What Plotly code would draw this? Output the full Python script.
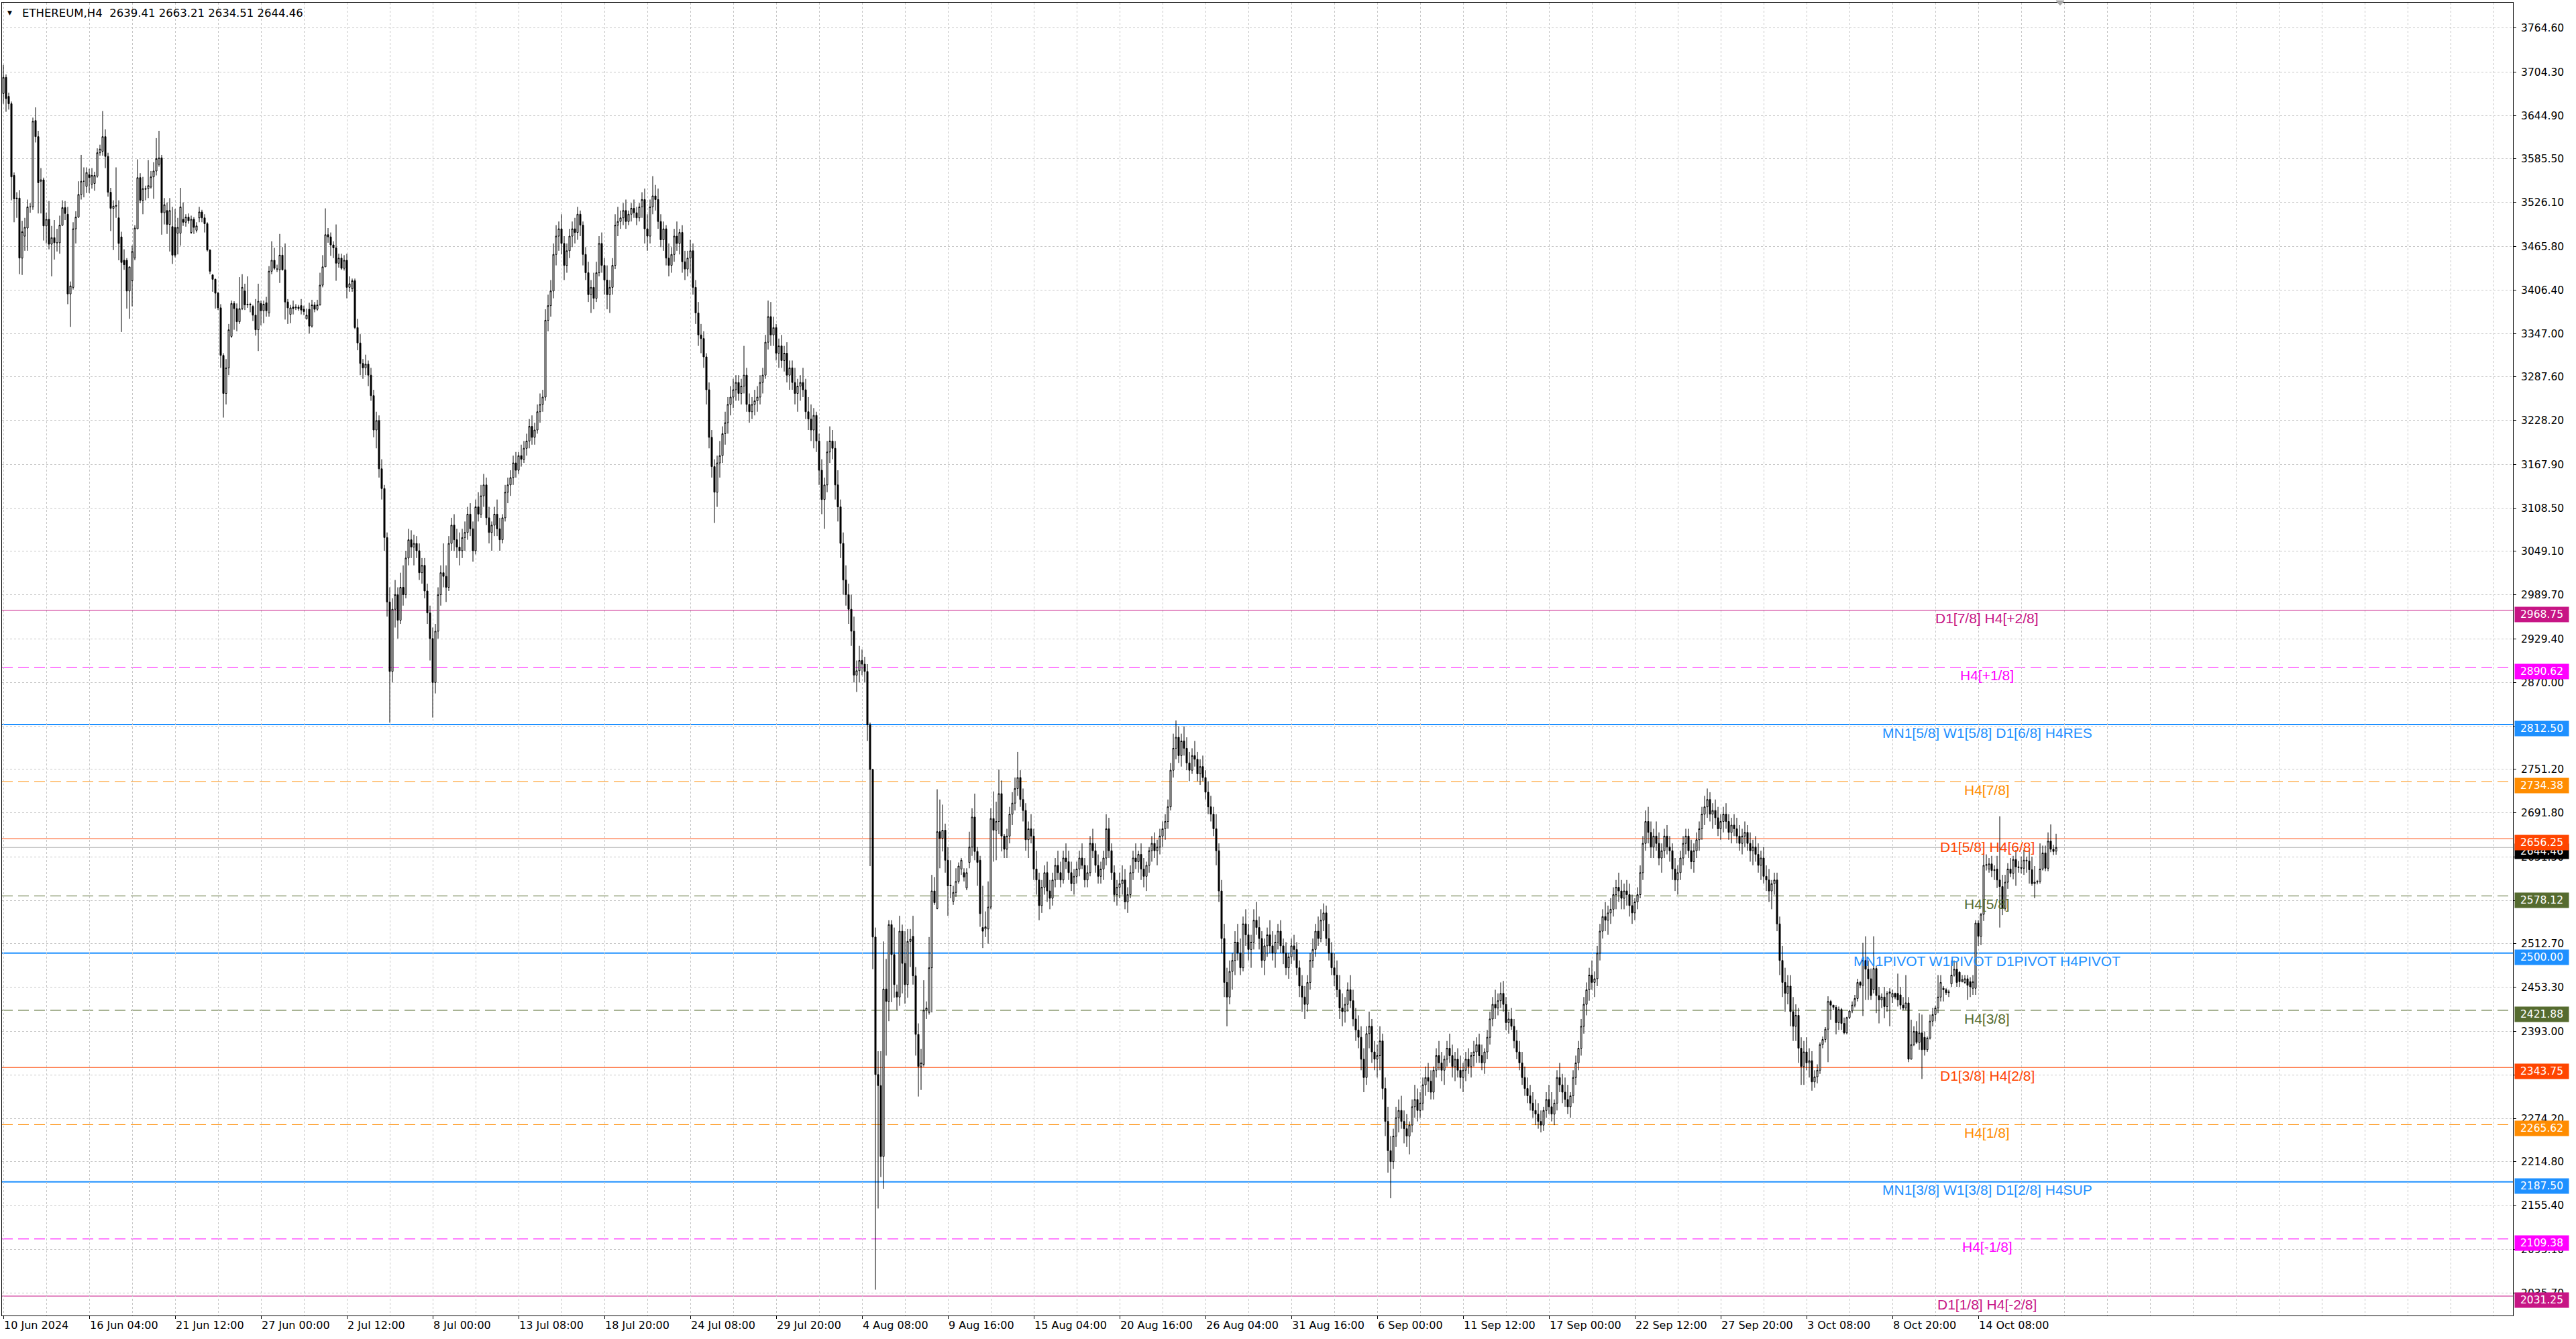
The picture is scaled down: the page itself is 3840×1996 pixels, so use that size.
import plotly.graph_objects as go

# ---------------- data (H4 bars, ETHEREUM) ----------------
opens = [
    3675,3697,3671,3661,3563,3531,3532,3450,3480,3491,
    3520,3520,3638,3616,3555,3557,3494,3503,3469,3478,
    3471,3471,3495,3519,3510,3401,3410,3490,3506,3537,
    3555,3548,3564,3551,3552,3562,3594,3596,3616,3589,
    3540,3518,3522,3505,3479,3447,3447,3405,3419,3450,
    3490,3560,3529,3544,3545,3547,3561,3569,3578,3587,
    3512,3515,3496,3493,3492,3484,3484,3503,3499,3506,
    3485,3503,3488,3505,3513,3505,3497,3461,3427,3421,
    3402,3382,3317,3265,3300,3343,3388,3381,3363,3381,
    3405,3387,3386,3384,3372,3352,3388,3378,3389,3375,
    3432,3447,3435,3434,3454,3434,3390,3373,3383,3382,
    3383,3385,3380,3367,3380,3357,3386,3380,3386,3413,
    3438,3482,3479,3468,3464,3443,3450,3436,3447,3410,
    3408,3419,3355,3334,3306,3300,3305,3290,3262,3215,
    3228,3162,3135,3068,2980,2885,2970,2990,2955,3000,
    2990,3040,3065,3055,3060,3050,3020,3030,2995,2965,
    2930,2870,2940,2990,3020,3015,3000,3060,3085,3065,
    3055,3050,3068,3075,3100,3080,3050,3110,3100,3125,
    3140,3095,3075,3085,3100,3080,3065,3095,3130,3140,
    3150,3170,3160,3180,3175,3190,3200,3220,3205,3215,
    3240,3250,3260,3365,3385,3405,3455,3480,3490,3470,
    3440,3460,3480,3490,3485,3510,3495,3455,3430,3400,
    3410,3395,3430,3470,3440,3420,3400,3410,3440,3495,
    3500,3505,3515,3500,3510,3518,3512,3505,3520,3530,
    3490,3480,3520,3535,3530,3500,3475,3490,3450,3440,
    3455,3480,3470,3485,3445,3435,3450,3460,3410,3375,
    3345,3340,3315,3270,3205,3165,3130,3170,3180,3210,
    3225,3250,3260,3270,3280,3265,3275,3290,3250,3240,
    3250,3255,3260,3280,3290,3335,3370,3345,3355,3320,
    3330,3310,3320,3290,3300,3280,3265,3275,3280,3270,
    3240,3230,3215,3235,3200,3160,3120,3140,3185,3200,
    3190,3140,3110,3060,3010,2990,2970,2940,2880,2886,
    2900,2895,2885,2812,2751,2522,2334,2319,2222,2451,
    2434,2539,2498,2447,2440,2530,2486,2457,2516,2523,
    2469,2389,2345,2348,2422,2419,2480,2585,2561,2666,
    2657,2668,2627,2592,2571,2583,2598,2615,2610,2589,
    2624,2645,2686,2639,2627,2535,2533,2533,2563,2684,
    2668,2680,2718,2660,2642,2660,2690,2705,2725,2740,
    2710,2695,2655,2670,2660,2615,2600,2565,2590,2610,
    2585,2575,2600,2620,2610,2600,2630,2625,2610,2595,
    2605,2615,2630,2620,2600,2610,2650,2640,2620,2605,
    2615,2630,2670,2640,2610,2580,2590,2595,2600,2570,
    2580,2610,2630,2625,2635,2615,2605,2620,2640,2650,
    2640,2645,2660,2670,2680,2700,2750,2780,2795,2770,
    2790,2780,2760,2750,2770,2765,2745,2755,2740,2720,
    2700,2690,2670,2640,2585,2520,2460,2440,2475,2490,
    2515,2500,2480,2540,2525,2505,2515,2545,2535,2520,
    2490,2510,2525,2510,2500,2515,2530,2510,2500,2480,
    2495,2510,2505,2480,2455,2440,2430,2460,2490,2505,
    2530,2520,2545,2555,2520,2500,2480,2470,2450,2425,
    2420,2430,2450,2435,2410,2395,2385,2355,2330,2390,
    2400,2365,2355,2360,2380,2315,2270,2230,2215,2250,
    2275,2285,2270,2260,2250,2265,2290,2300,2285,2295,
    2320,2330,2325,2310,2340,2360,2350,2340,2355,2370,
    2360,2345,2355,2340,2330,2340,2355,2345,2360,2365,
    2375,2360,2350,2365,2385,2410,2430,2425,2435,2445,
    2430,2405,2410,2400,2380,2365,2350,2330,2315,2305,
    2295,2285,2280,2270,2265,2285,2300,2290,2280,2295,
    2330,2320,2310,2300,2290,2305,2330,2350,2370,2400,
    2430,2450,2470,2460,2465,2500,2530,2550,2545,2555,
    2560,2580,2590,2585,2575,2585,2580,2565,2555,2570,
    2580,2610,2650,2680,2665,2645,2660,2650,2630,2640,
    2660,2645,2640,2615,2600,2610,2630,2650,2660,2640,
    2625,2640,2655,2670,2690,2700,2710,2690,2695,2685,
    2670,2680,2690,2680,2665,2675,2670,2660,2650,2660,
    2665,2650,2640,2645,2635,2620,2630,2605,2600,2585,
    2595,2600,2540,2490,2460,2445,2455,2420,2400,2415,
    2370,2345,2365,2350,2353,2324,2331,2340,2375,2382,
    2396,2434,2429,2426,2405,2423,2404,2391,2412,2421,
    2429,2438,2460,2456,2490,2478,2465,2450,2479,2442,
    2436,2440,2427,2445,2440,2445,2445,2443,2429,2425,
    2432,2355,2375,2393,2378,2391,2385,2368,2384,2407,
    2416,2425,2440,2452,2450,2446,2458,2470,2478,2474,
    2461,2460,2465,2461,2452,2452,2541,2523,2553,2620,
    2615,2622,2613,2615,2600,2591,2561,2597,2615,2609,
    2628,2618,2617,2616,2627,2626,2614,2595,2597,2598,
    2615,2637,2616,2653,2642,2639.41,
]
highs = [
    3714,3701,3676,3664,3567,3540,3543,3501,3505,3530,
    3525,3642,3656,3624,3573,3560,3512,3528,3494,3502,
    3490,3508,3529,3528,3520,3418,3499,3514,3555,3591,
    3574,3574,3572,3573,3568,3600,3605,3651,3626,3594,
    3546,3529,3574,3529,3486,3462,3450,3438,3467,3495,
    3585,3566,3561,3549,3584,3569,3581,3614,3624,3591,
    3532,3526,3532,3520,3517,3505,3546,3526,3510,3511,
    3508,3506,3499,3520,3516,3510,3499,3462,3428,3422,
    3404,3387,3320,3312,3360,3392,3391,3388,3424,3428,
    3415,3425,3389,3386,3394,3415,3392,3392,3397,3439,
    3473,3464,3441,3483,3465,3470,3394,3386,3392,3387,
    3386,3394,3385,3381,3389,3393,3390,3393,3430,3454,
    3518,3491,3485,3473,3496,3456,3456,3454,3456,3425,
    3422,3422,3367,3346,3312,3318,3310,3300,3270,3240,
    3235,3175,3140,3075,3000,2985,3010,3000,3020,3030,
    3050,3080,3078,3072,3070,3060,3040,3040,3005,2975,
    2945,2950,3000,3030,3060,3030,3070,3095,3100,3080,
    3075,3080,3090,3110,3115,3090,3120,3130,3140,3155,
    3150,3110,3090,3110,3120,3095,3100,3140,3150,3160,
    3180,3185,3185,3195,3200,3210,3230,3235,3225,3250,
    3265,3270,3380,3400,3420,3470,3495,3500,3510,3480,
    3470,3490,3500,3505,3520,3515,3500,3465,3445,3420,
    3430,3445,3480,3485,3450,3440,3420,3450,3510,3520,
    3515,3525,3530,3515,3525,3530,3520,3525,3540,3545,
    3510,3530,3562,3550,3545,3510,3500,3495,3470,3465,
    3490,3500,3490,3495,3460,3460,3475,3470,3420,3390,
    3360,3350,3320,3280,3215,3175,3180,3200,3220,3240,
    3260,3275,3285,3290,3290,3285,3330,3300,3265,3260,
    3270,3275,3290,3300,3345,3392,3390,3370,3360,3340,
    3345,3330,3335,3310,3310,3300,3285,3290,3300,3285,
    3260,3250,3245,3240,3210,3175,3150,3200,3220,3215,
    3200,3160,3120,3075,3030,3005,2990,2960,2900,2920,
    2915,2905,2895,2815,2752,2535,2366,2366,2516,2492,
    2545,2545,2535,2457,2551,2539,2530,2533,2533,2551,
    2481,2404,2369,2463,2434,2522,2607,2604,2724,2710,
    2703,2677,2645,2627,2592,2616,2624,2630,2616,2616,
    2666,2698,2718,2645,2633,2592,2557,2598,2698,2721,
    2707,2751,2736,2663,2670,2700,2720,2740,2775,2750,
    2725,2705,2680,2690,2670,2640,2610,2600,2620,2625,
    2600,2610,2630,2640,2625,2640,2650,2640,2625,2615,
    2625,2640,2650,2630,2620,2660,2670,2650,2635,2625,
    2640,2690,2685,2650,2620,2600,2610,2620,2615,2590,
    2620,2640,2650,2640,2650,2630,2625,2645,2660,2665,
    2655,2670,2680,2690,2710,2760,2800,2818,2810,2800,
    2810,2795,2775,2780,2790,2775,2765,2770,2750,2735,
    2715,2700,2690,2650,2600,2540,2480,2490,2500,2530,
    2540,2520,2550,2560,2540,2525,2560,2570,2550,2530,
    2520,2535,2545,2530,2525,2540,2545,2520,2515,2500,
    2520,2525,2515,2490,2470,2455,2470,2500,2520,2540,
    2550,2560,2568,2565,2540,2515,2500,2490,2470,2445,
    2440,2460,2470,2450,2425,2415,2400,2370,2400,2420,
    2410,2380,2375,2400,2390,2330,2290,2250,2260,2290,
    2300,2305,2285,2280,2270,2300,2320,2315,2310,2330,
    2345,2350,2340,2345,2370,2380,2365,2360,2380,2390,
    2375,2365,2370,2360,2350,2365,2370,2365,2380,2385,
    2390,2375,2370,2395,2420,2440,2450,2445,2460,2462,
    2440,2420,2425,2410,2395,2380,2365,2345,2330,2320,
    2310,2300,2295,2285,2290,2310,2320,2310,2300,2340,
    2350,2335,2330,2320,2310,2340,2360,2380,2410,2440,
    2460,2480,2490,2475,2510,2540,2560,2570,2565,2575,
    2590,2600,2610,2600,2595,2600,2595,2580,2575,2590,
    2620,2660,2695,2700,2680,2670,2680,2665,2650,2670,
    2675,2660,2650,2630,2620,2640,2660,2670,2670,2655,
    2650,2665,2680,2700,2715,2725,2720,2705,2710,2700,
    2690,2700,2705,2690,2685,2690,2685,2675,2670,2680,
    2675,2665,2655,2660,2650,2640,2645,2620,2615,2600,
    2610,2610,2550,2510,2480,2470,2470,2440,2430,2425,
    2385,2380,2385,2370,2366,2340,2348,2378,2386,2399,
    2441,2436,2429,2429,2427,2425,2412,2413,2422,2434,
    2443,2465,2462,2514,2523,2490,2479,2523,2483,2454,
    2445,2454,2448,2452,2450,2446,2472,2454,2440,2470,
    2440,2409,2400,2407,2418,2416,2393,2386,2416,2425,
    2428,2470,2470,2455,2452,2450,2490,2490,2488,2475,
    2470,2470,2470,2467,2470,2545,2545,2555,2636,2635,
    2630,2633,2620,2633,2687,2607,2607,2623,2630,2633,
    2641,2626,2632,2641,2632,2640,2632,2619,2600,2650,
    2647,2647,2665,2676,2648,2663.21,
]
lows = [
    3661,3650,3653,3529,3499,3505,3428,3427,3460,3460,
    3512,3516,3608,3511,3511,3474,3470,3462,3425,3448,
    3459,3456,3494,3502,3387,3356,3407,3470,3505,3530,
    3533,3539,3539,3545,3542,3560,3590,3590,3573,3534,
    3487,3461,3505,3447,3349,3434,3381,3367,3384,3447,
    3490,3525,3510,3529,3532,3545,3531,3563,3575,3482,
    3496,3483,3459,3442,3451,3455,3467,3494,3493,3497,
    3483,3483,3485,3499,3499,3485,3459,3428,3404,3381,
    3379,3300,3232,3250,3290,3341,3352,3350,3360,3379,
    3379,3382,3376,3364,3344,3323,3358,3361,3370,3370,
    3428,3434,3431,3416,3433,3366,3360,3361,3373,3379,
    3378,3373,3372,3366,3347,3355,3376,3378,3385,3410,
    3438,3471,3453,3450,3419,3437,3434,3433,3395,3404,
    3404,3353,3324,3290,3285,3290,3275,3255,3205,3190,
    3150,3120,3050,2960,2815,2870,2945,2930,2950,2975,
    2985,3030,3040,3030,3040,3010,3005,2985,2950,2900,
    2822,2855,2930,2975,3000,2980,2995,3050,3050,3040,
    3030,3040,3050,3065,3070,3035,3045,3090,3095,3110,
    3085,3060,3050,3070,3070,3050,3060,3090,3115,3125,
    3140,3150,3155,3165,3170,3180,3190,3195,3195,3210,
    3225,3240,3255,3350,3370,3395,3440,3460,3455,3420,
    3430,3450,3465,3470,3475,3480,3440,3420,3390,3375,
    3380,3390,3425,3430,3400,3380,3375,3400,3435,3480,
    3490,3495,3490,3495,3500,3505,3495,3500,3505,3470,
    3460,3470,3510,3515,3490,3465,3460,3440,3425,3430,
    3445,3460,3455,3430,3420,3425,3430,3400,3360,3330,
    3320,3300,3250,3190,3150,3088,3110,3150,3170,3195,
    3210,3235,3245,3255,3255,3250,3265,3240,3225,3230,
    3235,3240,3250,3265,3285,3325,3330,3330,3310,3300,
    3300,3295,3280,3270,3270,3250,3240,3255,3260,3230,
    3215,3200,3190,3185,3140,3100,3080,3130,3170,3175,
    3120,3090,3040,2990,2975,2950,2920,2870,2857,2870,
    2880,2870,2790,2619,2478,2040,2151,2194,2178,2360,
    2407,2433,2439,2422,2428,2445,2431,2439,2481,2457,
    2360,2304,2313,2345,2410,2416,2419,2566,2560,2616,
    2639,2610,2551,2575,2566,2577,2595,2607,2598,2586,
    2616,2633,2627,2592,2536,2507,2522,2513,2560,2625,
    2627,2663,2639,2630,2630,2650,2675,2695,2715,2700,
    2680,2640,2630,2650,2600,2580,2545,2555,2580,2570,
    2560,2565,2590,2600,2590,2595,2615,2600,2585,2580,
    2595,2605,2615,2590,2590,2605,2630,2610,2595,2595,
    2600,2620,2630,2600,2570,2565,2575,2580,2560,2555,
    2575,2600,2615,2610,2600,2590,2585,2610,2625,2630,
    2620,2635,2645,2655,2670,2695,2740,2765,2760,2755,
    2770,2750,2735,2745,2755,2735,2730,2735,2710,2690,
    2680,2660,2620,2570,2500,2440,2400,2430,2450,2470,
    2490,2470,2475,2510,2490,2480,2505,2525,2505,2480,
    2470,2495,2500,2490,2480,2505,2500,2485,2470,2465,
    2485,2490,2470,2440,2420,2410,2420,2450,2480,2495,
    2510,2515,2530,2510,2490,2470,2455,2440,2410,2400,
    2405,2420,2425,2400,2380,2370,2340,2310,2320,2370,
    2350,2340,2330,2340,2300,2250,2200,2165,2205,2235,
    2255,2260,2240,2235,2225,2255,2275,2270,2275,2285,
    2305,2310,2300,2300,2330,2340,2325,2320,2345,2350,
    2330,2325,2330,2315,2310,2325,2335,2330,2345,2350,
    2350,2340,2335,2355,2375,2400,2410,2415,2425,2420,
    2395,2390,2395,2370,2355,2340,2320,2305,2295,2285,
    2275,2265,2260,2255,2257,2275,2280,2270,2265,2285,
    2310,2295,2290,2280,2275,2295,2320,2340,2360,2390,
    2415,2435,2450,2440,2455,2490,2520,2530,2525,2540,
    2550,2560,2570,2560,2560,2565,2550,2540,2545,2560,
    2575,2600,2640,2650,2630,2630,2640,2620,2610,2630,
    2635,2625,2600,2585,2580,2600,2620,2635,2630,2615,
    2610,2630,2640,2655,2675,2685,2680,2670,2675,2660,
    2655,2665,2670,2655,2650,2660,2650,2640,2635,2645,
    2640,2625,2620,2625,2610,2600,2595,2585,2570,2560,
    2580,2530,2470,2440,2420,2430,2400,2380,2380,2350,
    2320,2320,2340,2330,2312,2316,2322,2335,2370,2378,
    2351,2409,2422,2389,2395,2395,2389,2389,2410,2418,
    2426,2434,2452,2414,2436,2436,2436,2445,2418,2404,
    2425,2411,2420,2400,2432,2437,2427,2423,2422,2422,
    2351,2355,2373,2376,2368,2328,2360,2365,2382,2400,
    2407,2418,2434,2434,2443,2440,2454,2468,2454,2454,
    2460,2458,2436,2440,2443,2443,2510,2511,2544,2613,
    2610,2604,2600,2589,2535,2552,2558,2588,2604,2601,
    2592,2610,2609,2607,2610,2595,2592,2575,2594,2595,
    2613,2612,2612,2638,2634,2634.51,
]
closes = [
    3697,3668,3661,3561,3531,3532,3450,3486,3492,3520,
    3520,3637,3616,3553,3557,3494,3503,3469,3478,3471,
    3471,3495,3519,3511,3401,3412,3490,3506,3537,3555,
    3555,3567,3560,3563,3563,3594,3599,3616,3589,3540,
    3518,3521,3521,3470,3444,3441,3405,3438,3459,3491,
    3560,3529,3545,3545,3549,3561,3569,3586,3587,3512,
    3523,3496,3515,3454,3454,3492,3520,3499,3506,3501,
    3503,3492,3494,3513,3505,3497,3461,3432,3421,3402,
    3382,3317,3265,3300,3352,3388,3381,3363,3381,3410,
    3386,3386,3387,3372,3352,3391,3378,3387,3378,3432,
    3447,3436,3435,3454,3434,3390,3382,3382,3381,3383,
    3381,3379,3377,3372,3357,3386,3380,3386,3413,3438,
    3482,3479,3468,3464,3443,3450,3436,3447,3410,3415,
    3419,3355,3334,3306,3300,3305,3290,3262,3215,3228,
    3162,3135,3068,2980,2885,2970,2990,2955,3000,2990,
    3040,3065,3055,3060,3050,3020,3030,2995,2965,2930,
    2870,2940,2990,3020,3015,3000,3060,3085,3065,3055,
    3050,3068,3075,3100,3080,3050,3110,3100,3125,3140,
    3095,3075,3085,3100,3080,3065,3095,3130,3140,3150,
    3170,3160,3180,3175,3190,3200,3220,3205,3215,3240,
    3250,3260,3365,3385,3405,3455,3480,3490,3470,3440,
    3460,3480,3490,3485,3510,3495,3455,3430,3400,3410,
    3395,3430,3470,3440,3420,3400,3410,3440,3495,3500,
    3505,3515,3500,3510,3518,3512,3505,3520,3530,3490,
    3480,3520,3535,3530,3500,3475,3490,3450,3440,3455,
    3480,3470,3485,3445,3435,3450,3460,3410,3375,3345,
    3340,3315,3270,3205,3165,3130,3170,3180,3210,3225,
    3250,3260,3270,3280,3265,3275,3290,3250,3240,3250,
    3255,3260,3280,3290,3335,3370,3345,3355,3320,3330,
    3310,3320,3290,3300,3280,3265,3275,3280,3270,3240,
    3230,3215,3235,3200,3160,3120,3140,3185,3200,3190,
    3140,3110,3060,3010,2990,2970,2940,2880,2886,2900,
    2895,2885,2812,2751,2522,2334,2319,2222,2451,2434,
    2539,2498,2457,2440,2530,2486,2457,2516,2519,2469,
    2389,2345,2350,2422,2425,2480,2585,2569,2666,2657,
    2668,2627,2592,2593,2583,2598,2619,2627,2604,2610,
    2645,2686,2639,2624,2554,2530,2536,2563,2684,2668,
    2680,2718,2660,2642,2660,2690,2705,2725,2740,2710,
    2695,2655,2670,2660,2615,2600,2565,2590,2610,2585,
    2575,2600,2620,2610,2600,2630,2625,2610,2595,2605,
    2615,2630,2620,2600,2610,2650,2640,2620,2605,2615,
    2630,2670,2640,2610,2580,2590,2595,2600,2570,2580,
    2610,2630,2625,2635,2615,2605,2620,2640,2650,2640,
    2645,2660,2670,2680,2700,2750,2780,2795,2770,2790,
    2780,2760,2750,2770,2765,2745,2755,2740,2720,2700,
    2690,2670,2640,2585,2520,2460,2440,2475,2490,2515,
    2500,2480,2540,2525,2505,2515,2545,2535,2520,2490,
    2510,2525,2510,2500,2515,2530,2510,2500,2480,2495,
    2510,2505,2480,2455,2440,2430,2460,2490,2505,2530,
    2520,2545,2555,2520,2500,2480,2470,2450,2425,2420,
    2430,2450,2435,2410,2395,2385,2355,2330,2390,2400,
    2365,2355,2360,2380,2315,2270,2230,2215,2250,2275,
    2285,2270,2260,2250,2265,2290,2300,2285,2295,2320,
    2330,2325,2310,2340,2360,2350,2340,2355,2370,2360,
    2345,2355,2340,2330,2340,2355,2345,2360,2365,2375,
    2360,2350,2365,2385,2410,2430,2425,2435,2445,2430,
    2405,2410,2400,2380,2365,2350,2330,2315,2305,2295,
    2285,2280,2270,2265,2285,2300,2290,2280,2295,2330,
    2320,2310,2300,2290,2305,2330,2350,2370,2400,2430,
    2450,2470,2460,2465,2500,2530,2550,2545,2555,2560,
    2580,2590,2585,2575,2585,2580,2565,2555,2570,2580,
    2610,2650,2680,2665,2645,2660,2650,2630,2640,2660,
    2645,2640,2615,2600,2610,2630,2650,2660,2640,2625,
    2640,2655,2670,2690,2700,2710,2690,2695,2685,2670,
    2680,2690,2680,2665,2675,2670,2660,2650,2660,2665,
    2650,2640,2645,2635,2620,2630,2605,2600,2585,2595,
    2600,2540,2490,2460,2445,2455,2420,2400,2415,2370,
    2345,2365,2350,2353,2324,2331,2340,2375,2382,2396,
    2434,2429,2426,2405,2423,2404,2391,2412,2421,2429,
    2438,2460,2456,2490,2478,2465,2442,2479,2442,2436,
    2440,2427,2445,2447,2445,2440,2436,2429,2425,2432,
    2355,2375,2393,2378,2391,2368,2368,2384,2407,2416,
    2425,2440,2460,2450,2446,2447,2470,2478,2460,2461,
    2464,2465,2456,2454,2461,2541,2523,2553,2620,2621,
    2622,2613,2614,2600,2591,2561,2597,2615,2609,2628,
    2618,2617,2616,2627,2626,2614,2595,2597,2598,2615,
    2637,2616,2653,2642,2639,2644.46,
]

date_labels = [
    "10 Jun 2024", "16 Jun 04:00", "21 Jun 12:00", "27 Jun 00:00", "2 Jul 12:00",
    "8 Jul 00:00", "13 Jul 08:00", "18 Jul 20:00", "24 Jul 08:00", "29 Jul 20:00",
    "4 Aug 08:00", "9 Aug 16:00", "15 Aug 04:00", "20 Aug 16:00", "26 Aug 04:00",
    "31 Aug 16:00", "6 Sep 00:00", "11 Sep 12:00", "17 Sep 00:00", "22 Sep 12:00",
    "27 Sep 20:00", "3 Oct 08:00", "8 Oct 20:00", "14 Oct 08:00",
]

price_ticks = [
    3764.60, 3704.30, 3644.90, 3585.50, 3526.10, 3465.80, 3406.40, 3347.00,
    3287.60, 3228.20, 3167.90, 3108.50, 3049.10, 2989.70, 2929.40, 2870.00,
    2810.60, 2751.20, 2691.80, 2631.50, 2572.10, 2512.70, 2453.30, 2393.00,
    2333.60, 2274.20, 2214.80, 2155.40, 2095.10, 2035.70,
]

level_prices = [2968.75, 2890.62, 2812.50, 2734.38, 2656.25, 2578.12, 2500.00,
                2421.88, 2343.75, 2265.62, 2187.50, 2109.38, 2031.25]
level_names = [
    "D1[7/8] H4[+2/8]", "H4[+1/8]", "MN1[5/8] W1[5/8] D1[6/8] H4RES", "H4[7/8]",
    "D1[5/8] H4[6/8]", "H4[5/8]", "MN1PIVOT W1PIVOT D1PIVOT H4PIVOT", "H4[3/8]",
    "D1[3/8] H4[2/8]", "H4[1/8]", "MN1[3/8] W1[3/8] D1[2/8] H4SUP", "H4[-1/8]",
    "D1[1/8] H4[-2/8]",
]

# ---------------- styles ----------------
level_colors = ["#C71585", "#FF00FF", "#1E90FF", "#FF8C00", "#FF4500", "#556B2F", "#1E90FF",
                "#556B2F", "#FF4500", "#FF8C00", "#1E90FF", "#FF00FF", "#C71585"]
level_dash = ["solid", "16px,8px", "solid", "16px,8px", "solid", "16px,8px", "solid",
              "16px,8px", "solid", "16px,8px", "solid", "16px,8px", "solid"]
level_width = [1, 1, 2, 1, 1, 1, 2, 1, 1, 1, 2, 1, 1]

GRID = "#c6c6c6"
AXFONT = dict(family="DejaVu Sans, Verdana, sans-serif", size=15.5, color="black")
LBLFONT = "Liberation Sans, Arial, sans-serif"
BAR_SPAN = 32     # bars between two time labels
GRID_SPAN = 16    # bars between two vertical grid lines
LABEL_BAR = 739.25

n = len(closes)
xs = list(range(n))

fig = go.Figure()
fig.add_trace(go.Candlestick(
    x=xs, open=opens, high=highs, low=lows, close=closes,
    increasing=dict(fillcolor="white", line=dict(color="black", width=1)),
    decreasing=dict(fillcolor="black", line=dict(color="black", width=1)),
    whiskerwidth=0, hoverinfo="skip", showlegend=False,
))

# level lines
for p, c, d, w in zip(level_prices, level_colors, level_dash, level_width):
    fig.add_shape(type="line", xref="paper", x0=0, x1=1, yref="y", y0=p, y1=p,
                  line=dict(color=c, width=w, dash=d), layer="between")
# bid line
bid = closes[-1]
fig.add_shape(type="line", xref="paper", x0=0, x1=1, yref="y", y0=bid, y1=bid,
              line=dict(color="#b4b4b4", width=1), layer="between")

# chart-shift marker at the top edge, just right of the last bar
fig.add_shape(type="path", xref="x", xsizemode="pixel", xanchor=n + 0.5,
              yref="paper", ysizemode="pixel", yanchor=1,
              path="M -6 3 L 6 3 L 0 -4 Z", fillcolor="#a8a8a8",
              line=dict(color="#a8a8a8", width=1), layer="above")

# level text labels
for p, name, c in zip(level_prices, level_names, level_colors):
    fig.add_annotation(x=LABEL_BAR, y=p, xref="x", yref="y", text=name, showarrow=False,
                       xanchor="center", yanchor="middle", yshift=-12,
                       font=dict(family=LBLFONT, size=21, color=c))

# price boxes on the scale (bid box first so that the 2656.25 box covers it)
box_font = dict(family="DejaVu Sans, Verdana, sans-serif", size=15.5, color="white")
fig.add_annotation(xref="paper", x=1, yref="y", y=bid, text=f"{bid:.2f}", showarrow=False,
                   xanchor="left", yanchor="middle", xshift=2, yshift=-6, bgcolor="black",
                   font=box_font, width=80, height=22, borderpad=0)
for p, c in zip(level_prices, level_colors):
    fig.add_annotation(xref="paper", x=1, yref="y", y=p, text=f"{p:.2f}", showarrow=False,
                       xanchor="left", yanchor="middle", xshift=2, yshift=-6, bgcolor=c,
                       font=box_font, width=80, height=22, borderpad=0)

# chart title
title = (f"ETHEREUM,H4\u00a0\u00a0{opens[-1]:.2f} {highs[-1]:.2f} "
         f"{lows[-1]:.2f} {closes[-1]:.2f}")
fig.add_annotation(xref="paper", yref="paper", x=0, y=1, xanchor="left", yanchor="middle",
                   xshift=28, yshift=-15, text=title, showarrow=False,
                   font=dict(family="DejaVu Sans, Verdana, sans-serif", size=16.5, color="black"))
fig.add_annotation(xref="paper", yref="paper", x=0, y=1, xanchor="center", yanchor="middle",
                   xshift=11, yshift=-15, text="\u25BC", showarrow=False,
                   font=dict(family="DejaVu Sans", size=9, color="black"))

fig.update_layout(
    template="none",
    width=3840, height=1996,
    margin=dict(l=3, r=94, t=4, b=35, autoexpand=False),
    paper_bgcolor="white", plot_bgcolor="white",
    showlegend=False, hovermode=False,
    boxgap=0.5, boxgroupgap=0,
    xaxis=dict(
        range=[-0.5, 935.25], autorange=False,
        tickmode="array", tickvals=[BAR_SPAN * i for i in range(len(date_labels))],
        ticktext=date_labels, ticklabelposition="outside right",
        ticks="outside", ticklen=4, tickwidth=1, tickcolor="black",
        tickfont=dict(family="DejaVu Sans, Verdana, sans-serif", size=16, color="black"),
        showline=True, linecolor="black", linewidth=1, mirror=True,
        showgrid=True, gridcolor=GRID, griddash="3px,3px", gridwidth=1,
        minor=dict(tickmode="linear", tick0=0, dtick=GRID_SPAN, showgrid=True,
                   gridcolor=GRID, griddash="3px,3px", gridwidth=1, ticks=""),
        zeroline=False, automargin=False,
        rangeslider=dict(visible=False), fixedrange=True,
    ),
    yaxis=dict(
        side="right", range=[2004.7, 3799.1], autorange=False,
        tickmode="array", tickvals=price_ticks,
        ticktext=[f"{v:.2f}" for v in price_ticks],
        ticks="outside", ticklen=4, tickwidth=1, tickcolor="black",
        tickfont=AXFONT, ticklabelstandoff=4,
        showline=True, linecolor="black", linewidth=1, mirror=True,
        showgrid=True, gridcolor=GRID, griddash="3px,3px", gridwidth=1,
        zeroline=False, automargin=False, fixedrange=True,
    ),
)

fig.write_html("out.html", config={"displayModeBar": False},
               post_script="document.body.style.margin='0';document.body.style.overflow='hidden';")
